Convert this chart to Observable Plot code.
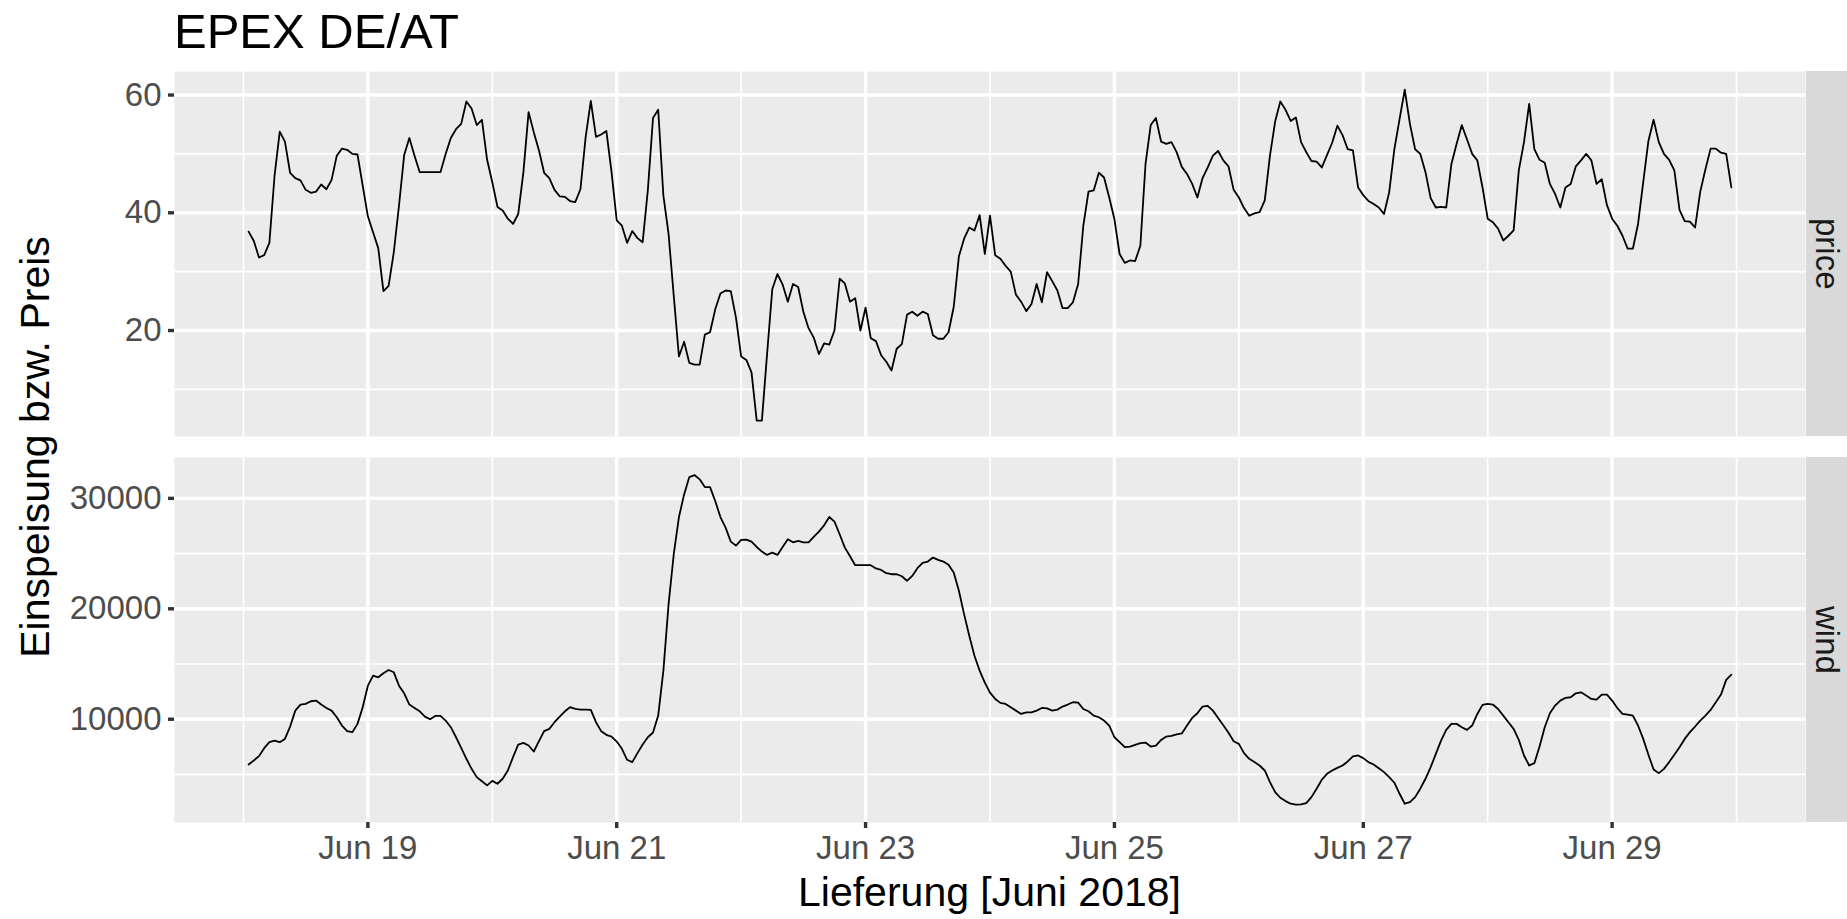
<!DOCTYPE html>
<html><head><meta charset="utf-8">
<script src="https://cdn.jsdelivr.net/npm/d3@7"></script>
<script src="https://cdn.jsdelivr.net/npm/@observablehq/plot@0.6"></script>
<style>
body{margin:0;background:#fff;font-family:"Liberation Sans",Arial,sans-serif;}
#root{position:relative;width:1847px;height:919px;overflow:hidden;background:#fff;}
.abs{position:absolute;white-space:nowrap;}
.strip{position:absolute;background:#D9D9D9;color:#1A1A1A;font-size:33px;display:flex;align-items:center;justify-content:center;}
.strip span{writing-mode:vertical-rl;}
</style></head><body><div id="root"></div>
<script>
// ---- data (hourly, starting Jun 18 2018 01:00) ----
const titleText = "EPEX DE/AT";
const xTitle = "Lieferung [Juni 2018]";
const yTitle = "Einspeisung bzw. Preis";
const facetLabels = ["price", "wind"];
const startHour = 1;
const priceValues = [
36.8,35.2,32.4,32.8,34.9,46.3,53.8,52.1,46.8,45.9,
45.5,43.9,43.4,43.6,44.8,44.0,45.6,49.7,50.9,50.7,
50.0,49.9,44.6,39.4,36.7,34.0,26.7,27.6,33.3,41.2,
49.8,52.7,49.7,46.9,46.9,46.9,46.9,46.9,50.0,52.7,
54.2,55.1,58.9,57.7,54.9,55.8,49.0,45.2,41.0,40.4,
39.0,38.1,39.8,46.9,57.1,53.7,50.6,46.8,45.9,43.9,
42.8,42.7,42.0,41.8,44.0,52.8,59.0,52.9,53.3,53.9,
46.9,38.7,37.8,34.9,36.9,35.7,35.0,43.8,56.1,57.5,
42.9,36.4,25.9,15.6,18.1,14.5,14.2,14.2,19.3,19.7,
23.6,26.3,26.8,26.7,22.2,15.6,15.0,12.9,4.7,4.7,
16.0,27.0,29.6,27.8,24.9,27.9,27.4,23.2,20.4,18.8,
16.0,17.8,17.6,20.0,28.8,28.0,24.9,25.5,20.0,23.9,
18.7,18.2,15.8,14.7,13.2,16.9,17.7,22.7,23.2,22.5,
23.2,22.8,19.2,18.6,18.6,19.7,24.0,32.6,35.6,37.5,
37.0,39.6,33.0,39.5,32.8,32.2,31.0,30.0,26.1,24.9,
23.3,24.5,27.9,24.8,29.9,28.4,26.8,23.8,23.8,24.8,
27.9,37.8,43.6,43.8,46.8,46.0,42.6,38.9,33.0,31.5,
31.9,31.8,34.4,48.3,54.9,56.1,52.1,51.7,52.0,50.3,
47.8,46.6,44.9,42.6,45.9,47.7,49.7,50.5,48.9,47.9,
43.9,42.6,40.8,39.5,39.9,40.1,42.1,49.7,55.5,58.9,
57.5,55.6,56.2,52.0,50.3,48.8,48.7,47.7,49.8,51.9,
54.8,53.2,50.8,50.6,44.3,43.0,42.0,41.5,40.9,39.8,
43.5,50.8,55.9,60.9,55.1,50.8,50.0,46.9,42.5,40.9,
41.0,40.9,48.3,51.7,54.9,52.5,50.0,48.9,44.3,39.0,
38.4,37.3,35.3,36.1,37.0,47.2,52.0,58.5,50.8,49.0,
48.5,44.9,43.2,40.9,44.3,44.9,47.9,48.9,50.0,48.9,
44.9,45.7,41.3,39.0,37.8,36.1,33.9,33.9,38.1,45.2,
52.2,55.8,52.0,50.0,49.0,47.2,40.5,38.6,38.5,37.5,
43.6,47.4,50.9,50.9,50.2,50.0,44.3
];
const windValues = [
5900,6270,6660,7380,7920,8070,7920,8220,9340,10780,
11330,11390,11630,11690,11330,11020,10780,10180,9430,8920,
8830,9580,11090,13040,13950,13800,14160,14460,14250,13040,
12350,11330,11020,10720,10240,10000,10300,10300,9880,9280,
8370,7410,6420,5510,4760,4380,4010,4420,4160,4610,
5360,6570,7710,7860,7620,7080,8010,8920,9130,9730,
10240,10720,11090,10930,10870,10870,10840,9730,8920,8590,
8430,7980,7320,6330,6120,6930,7710,8370,8800,10330,
14400,20420,24940,28310,30360,31930,32110,31720,31020,31020,
29760,28310,27350,26080,25720,26240,26270,26080,25600,25180,
24880,25090,24880,25600,26300,26020,26150,26020,26020,26510,
26990,27560,28310,27890,26750,25540,24760,23950,23950,23950,
23950,23650,23520,23220,23130,23130,22950,22530,22980,23680,
24160,24280,24640,24430,24280,23980,23280,21630,19520,17560,
15750,14400,13310,12410,11840,11480,11390,11090,10780,10480,
10630,10630,10780,11020,10990,10780,10870,11150,11330,11540,
11510,10930,10720,10330,10180,9880,9430,8370,7920,7470,
7530,7680,7830,7890,7530,7620,8130,8430,8490,8620,
8710,9430,10120,10540,11150,11210,10780,10120,9460,8780,
8010,7770,6930,6420,6120,5810,5360,4310,3400,2890,
2590,2350,2260,2290,2410,2950,3710,4520,5060,5360,
5600,5810,6180,6630,6720,6480,6120,5900,5570,5210,
4760,4250,3250,2350,2500,2950,3710,4610,5660,6870,
8070,9040,9580,9580,9280,9040,9430,10480,11300,11390,
11330,10930,10330,9730,9130,8130,6720,5810,6020,7530,
9280,10540,11240,11690,11930,11990,12350,12440,12140,11840,
11780,12230,12230,11690,11020,10480,10420,10330,9430,8220,
6780,5450,5120,5510,6120,6780,7470,8220,8830,9340,
9880,10330,10840,11540,12230,13560,14040
];
const xMajorTickDates = ["2018-06-19","2018-06-21","2018-06-23","2018-06-25","2018-06-27","2018-06-29"];
const xMinorTickDates = ["2018-06-18","2018-06-20","2018-06-22","2018-06-24","2018-06-26","2018-06-28","2018-06-30"];
const priceMajorTicks = [20, 40, 60];
const priceMinorTicks = [10, 30, 50];
const windMajorTicks = [10000, 20000, 30000];
const windMinorTicks = [5000, 15000, 25000];
const priceDomain = [2, 64];
const windDomain = [650, 33700];

// ---- build ----
const toDate = s => new Date(s + "T00:00:00Z");
const timeOf = i => new Date(Date.UTC(2018, 5, 18, startHour + i));
const priceData = priceValues.map((v, i) => ({t: timeOf(i), v}));
const windData = windValues.map((v, i) => ({t: timeOf(i), v}));
const t0 = +timeOf(0), t1 = +timeOf(priceValues.length - 1);
const pad = 0.05 * (t1 - t0);
const xDomain = [new Date(t0 - pad), new Date(t1 + pad)];
const majorX = xMajorTickDates.map(toDate);
const minorX = xMinorTickDates.map(toDate);

const FONT = '"Liberation Sans", Arial, sans-serif';
const W = 1847, ML = 174, MR = 42, PH = 365;

function panel(data, yDomain, majorY, minorY, showX) {
  const marks = [
    Plot.frame({fill: "#EBEBEB", stroke: null}),
    Plot.gridX(minorX, {stroke: "white", strokeOpacity: 1, strokeWidth: 1.7}),
    Plot.gridY(minorY, {stroke: "white", strokeOpacity: 1, strokeWidth: 1.7}),
    Plot.gridX(majorX, {stroke: "white", strokeOpacity: 1, strokeWidth: 3.4}),
    Plot.gridY(majorY, {stroke: "white", strokeOpacity: 1, strokeWidth: 3.4}),
    Plot.axisY(majorY, {tickSize: 6, tickPadding: 7, fontSize: 33, fill: "#4D4D4D", stroke: "#333333", strokeWidth: 3.4, label: null, tickFormat: d => String(d)}),
    Plot.line(data, {x: "t", y: "v", stroke: "black", strokeWidth: 1.8})
  ];
  if (showX) marks.push(Plot.axisX(majorX, {tickSize: 6, tickPadding: 7, fontSize: 33, fill: "#4D4D4D", stroke: "#333333", strokeWidth: 3.4, label: null, tickFormat: d3.utcFormat("%b %d")}));
  return Plot.plot({
    width: W, height: PH + (showX ? 60 : 0),
    marginLeft: ML, marginRight: MR, marginTop: 0, marginBottom: showX ? 60 : 0,
    x: {type: "utc", domain: xDomain, axis: showX ? undefined : null},
    y: {domain: yDomain},
    style: {fontFamily: FONT, background: "transparent", overflow: "visible"},
    marks
  });
}

const root = document.getElementById("root");
function place(el, left, top) { el.style.position = "absolute"; el.style.left = left + "px"; el.style.top = top + "px"; root.appendChild(el); return el; }

place(panel(priceData, priceDomain, priceMajorTicks, priceMinorTicks, false), 0, 71);
place(panel(windData, windDomain, windMajorTicks, windMinorTicks, true), 0, 457);

function div(cls, html) { const d = document.createElement("div"); d.className = cls; d.innerHTML = html; return d; }

const t = place(div("abs", titleText), 174, 7);
t.style.fontSize = "49px"; t.style.lineHeight = "49px"; t.style.color = "#000";

const xt = div("abs", xTitle);
xt.style.fontSize = "41px"; xt.style.lineHeight = "41px"; xt.style.color = "#000";
xt.style.transform = "translateX(-50%)";
place(xt, (ML + W - MR) / 2, 872);

const yt = div("abs", yTitle);
yt.style.fontSize = "41px"; yt.style.lineHeight = "41px"; yt.style.color = "#000";
yt.style.transform = "translate(-50%,-50%) rotate(-90deg)";
place(yt, 35, (71 + 822) / 2);

[[facetLabels[0], 71], [facetLabels[1], 457]].forEach(([lab, top]) => {
  const s = div("strip", "<span>" + lab + "</span>");
  s.style.width = (MR - 1) + "px"; s.style.height = PH + "px";
  place(s, W - MR + 1, top);
});
</script></body></html>
